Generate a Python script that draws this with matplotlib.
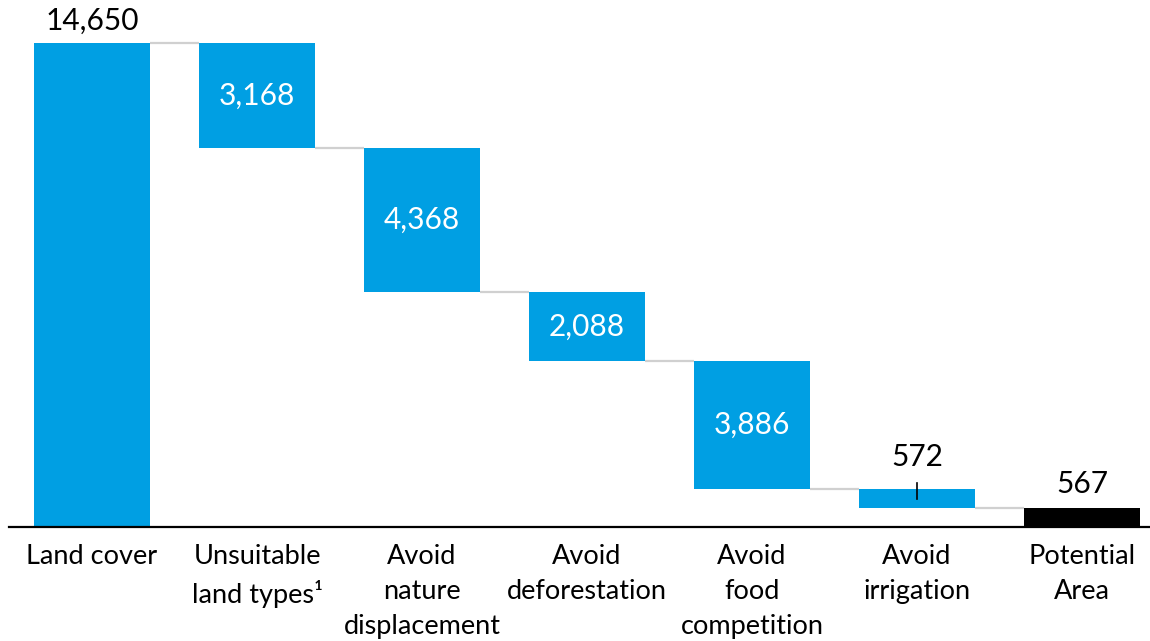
import matplotlib.pyplot as plt
import numpy as np

plt.rcParams['font.family'] = ['Lato', 'DejaVu Sans']

categories = ["Land cover", "Unsuitable\nland types\u00b9", "Avoid\nnature\ndisplacement",
              "Avoid\ndeforestation", "Avoid\nfood\ncompetition", "Avoid\nirrigation",
              "Potential\nArea"]
start_total = 14650
reductions = [3168, 4368, 2088, 3886, 572]
final_total = 567
value_labels = ["14,650", "3,168", "4,368", "2,088", "3,886", "572", "567"]

blue = "#009FE3"
grey = "#D0D0D0"
fs = 19.5
vfs = 21.5

W, H = 1150, 641
fig = plt.figure(figsize=(W / 100, H / 100), dpi=100)
ax_left, ax_right, ax_bottom, ax_top = 9, 1149, 641 - 527, 641
ax = fig.add_axes([ax_left / W, ax_bottom / H, (ax_right - ax_left) / W, (ax_top - ax_bottom) / H])

# horizontal scale: bar centres 165 px apart, first centre at x=92 px
spacing = 165.0
x0 = (ax_left - 92) / spacing
x1 = (ax_right - 92) / spacing
ax.set_xlim(x0, x1)
# vertical scale: 14,650 reaches 43 px from the top
ymax = start_total * (527 - 0) / (527 - 43)
ax.set_ylim(0, ymax)

width = 116 / spacing
n = len(categories)
x = np.arange(n)

# compute floating bar positions
bottoms, heights = [0], [start_total]
level = start_total
for r in reductions:
    level -= r
    bottoms.append(level)
    heights.append(r)
bottoms.append(0)
heights.append(final_total)

colors = [blue] * (n - 1) + ["black"]
ax.bar(x, heights, bottom=bottoms, width=width, color=colors, zorder=2)

# connector lines between bars
levels_after = [start_total]
lvl = start_total
for r in reductions:
    lvl -= r
    levels_after.append(lvl)
for i in range(n - 1):
    y = levels_after[i]
    ax.plot([x[i] + width / 2, x[i + 1] - width / 2], [y, y], color=grey, lw=1.6, zorder=1,
            solid_capstyle='butt')

# value labels
ax.text(x[0], start_total + 250, value_labels[0], ha='center', va='bottom', fontsize=vfs, color='black')
for i in range(1, 5):
    ax.text(x[i], bottoms[i] + heights[i] / 2, value_labels[i], ha='center', va='center',
            fontsize=vfs, color='white')
top_irr = bottoms[5] + heights[5]
ax.text(x[5], top_irr + 550, value_labels[5], ha='center', va='bottom', fontsize=vfs, color='black')
ax.plot([x[5], x[5]], [top_irr - 300, top_irr + 200], color='black', lw=1.2, zorder=3)
ax.text(x[6], final_total + 300, value_labels[6], ha='center', va='bottom', fontsize=vfs, color='black')

ax.set_xticks(x)
ax.set_xticklabels(categories, fontsize=fs, linespacing=1.5, va='top')
ax.tick_params(axis='x', length=0, pad=12)
ax.set_yticks([])
for s in ['top', 'right', 'left']:
    ax.spines[s].set_visible(False)
ax.spines['bottom'].set_linewidth(1.6)
ax.spines['bottom'].set_color('black')

fig.savefig("out.png", dpi=100)
